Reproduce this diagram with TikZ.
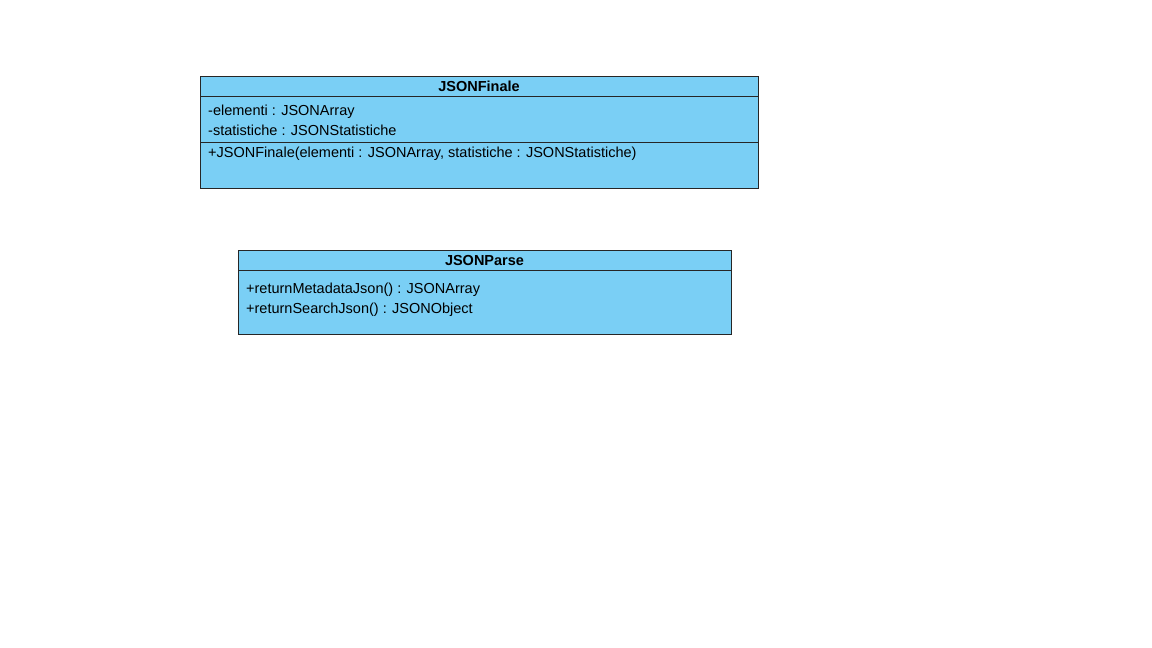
\documentclass[tikz,border=0pt]{standalone}
\usepackage{fontspec}
\setmainfont{Liberation Sans}
\definecolor{classblue}{RGB}{122,207,245}
\begin{document}
\begin{tikzpicture}[x=1pt,y=-1pt,
    classbox/.style={draw=black!85, fill=classblue, line width=1pt, rectangle, anchor=north west, inner sep=0pt},
    title/.style={font=\fontsize{14.5}{17}\selectfont\bfseries, anchor=base, inner sep=0pt},
    member/.style={font=\fontsize{14.5}{17}\selectfont, anchor=base west, inner sep=0pt}]
    \useasboundingbox (0,0) rectangle (1152,648);
    % JSONFinale
    \node[classbox, minimum width=558, minimum height=112] (finale) at (200,76) {};
    \draw[line width=1pt, black!85] (200,96) -- (758,96);
    \draw[line width=1pt, black!85] (200,142) -- (758,142);
    \node[title] (finaleName) at (479,91) {JSONFinale};
    \node[member] (finaleA1) at (208,115.5) {-elementi : JSONArray};
    \node[member] (finaleA2) at (208,135) {-statistiche : JSONStatistiche};
    \node[member] (finaleM1) at (208,157.5) {+JSONFinale(elementi : JSONArray, statistiche : JSONStatistiche)};
    % JSONParse
    \node[classbox, minimum width=493, minimum height=84] (parse) at (238,250) {};
    \draw[line width=1pt, black!85] (238,270) -- (731,270);
    \node[title] (parseName) at (484.5,265) {JSONParse};
    \node[member] (parseM1) at (246,293) {+returnMetadataJson() : JSONArray};
    \node[member] (parseM2) at (246,313) {+returnSearchJson() : JSONObject};
\end{tikzpicture}
\end{document}
